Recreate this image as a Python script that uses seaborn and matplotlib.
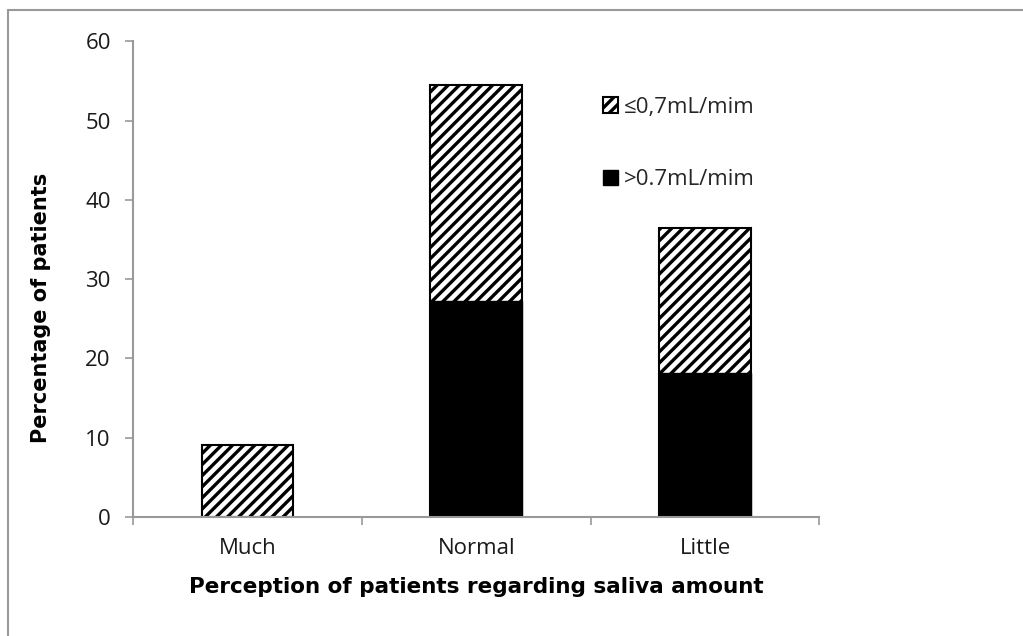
import numpy as np
import pandas as pd
import seaborn as sns
import matplotlib.pyplot as plt
from matplotlib.patches import Patch
from matplotlib.lines import Line2D

# data
categories = ['Much', 'Normal', 'Little']
above_07 = [0.0, 27.3, 18.2]      # >0.7mL/mim
below_07 = [9.1, 27.2, 18.2]      # <=0.7mL/mim
totals = [a + b for a, b in zip(above_07, below_07)]

df = pd.DataFrame({'cat': categories, 'total': totals, 'above': above_07})

sns.set_theme(style='white')
plt.rcParams['font.family'] = ['Open Sans', 'DejaVu Sans']
plt.rcParams['hatch.linewidth'] = 2.4

fig = plt.figure(figsize=(10.23, 6.36), dpi=100)
ax = fig.add_axes([0.130, 0.187, 0.671, 0.748])

# hatched = total bar, black bar drawn on top
sns.barplot(data=df, x='cat', y='total', color='white', width=0.4,
            edgecolor='black', linewidth=1.5, hatch='///', ax=ax)
sns.barplot(data=df, x='cat', y='above', color='black', width=0.4,
            edgecolor='black', linewidth=1.0, ax=ax)

ax.set_xlim(-0.5, 2.5)
ax.set_ylim(0, 60)
ax.set_yticks(range(0, 61, 10))
ax.set_xticks([-0.5, 0.5, 1.5, 2.5], minor=True)
ax.tick_params(axis='x', which='major', length=0, labelsize=16, pad=15, colors='#1a1a1a')
ax.tick_params(axis='x', which='minor', length=6, color='#999999', width=1.2, direction='out')
ax.tick_params(axis='y', length=6, width=1.2, direction='out',
               labelsize=16, pad=10, colors='#1a1a1a')
ax.tick_params(axis='y', color='#999999')
ax.xaxis.set_ticks_position('bottom')
ax.yaxis.set_ticks_position('left')
for s in ['top', 'right']:
    ax.spines[s].set_visible(False)
for s in ['left', 'bottom']:
    ax.spines[s].set_color('#999999')
    ax.spines[s].set_linewidth(1.5)

ax.set_xlabel('Perception of patients regarding saliva amount', fontsize=15.5,
              fontweight='bold', labelpad=13, color='black', family=['DejaVu Sans'])
ax.set_ylabel('Percentage of patients', fontsize=15, fontweight='bold',
              color='black', family=['DejaVu Sans'])
ax.yaxis.set_label_coords(-0.12, 0.44)

handles = [Patch(facecolor='white', edgecolor='black', hatch='///', linewidth=1.5),
           Patch(facecolor='black', edgecolor='black')]
ax.legend(handles, ['\u22640,7mL/mim', '>0.7mL/mim'], loc='upper left',
          bbox_to_anchor=(0.655, 0.925), frameon=False, fontsize=16,
          handlelength=0.7, handleheight=0.7, handletextpad=0.25, labelspacing=2.3)

# partial figure frame (top and left)
fig.add_artist(Line2D([0.008, 1.0], [0.985, 0.985], color='#999999', lw=1.5))
fig.add_artist(Line2D([0.008, 0.008], [0.0, 0.985], color='#999999', lw=1.5))

plt.savefig('out.png', dpi=100)
